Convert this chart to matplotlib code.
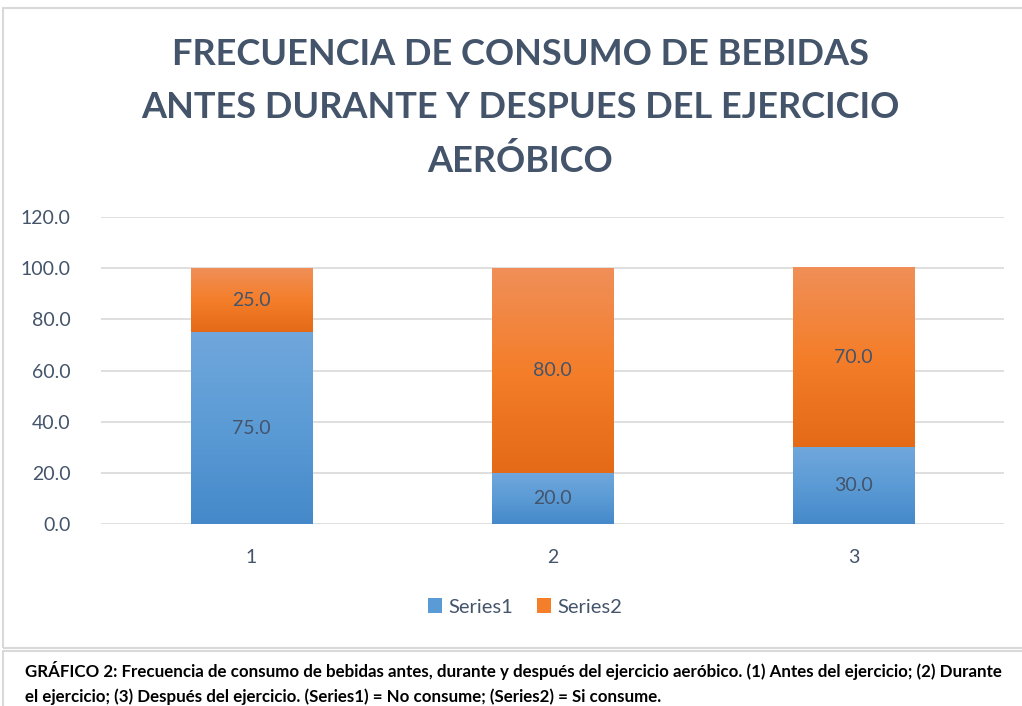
import numpy as np
import matplotlib
matplotlib.use('Agg')
import matplotlib.pyplot as plt
from matplotlib.colors import LinearSegmentedColormap
from matplotlib.patches import Rectangle, Patch

# Data
categories = ['1', '2', '3']
series1 = [75.0, 20.0, 30.0]   # No consume
series2 = [25.0, 80.0, 70.0]   # Si consume
yticks = [0, 20, 40, 60, 80, 100, 120]

title = 'FRECUENCIA DE CONSUMO DE BEBIDAS\nANTES DURANTE Y DESPUES DEL EJERCICIO\nAERÓBICO'
caption = ('GRÁFICO 2: Frecuencia de consumo de bebidas antes, durante y después del ejercicio aeróbico. '
           '(1) Antes del ejercicio; (2) Durante\nel ejercicio; (3) Después del ejercicio. '
           '(Series1) = No consume; (Series2) = Si consume.')

TXT = '#44546A'
GRID = '#D9D9D9'
blue_cm = LinearSegmentedColormap.from_list('b', ['#4589CA', '#5B9BD5', '#70A7DC'])
orng_cm = LinearSegmentedColormap.from_list('o', ['#E46A17', '#F47E2A', '#F08F58'])

plt.rcParams['font.family'] = ['Lato', 'DejaVu Sans']

fig = plt.figure(figsize=(10.22, 7.06), dpi=100)
W, H = 1022, 706

# chart and caption borders
fig.patches.append(Rectangle((3 / W, 1 - 648 / H), 1.0, 640 / H, transform=fig.transFigure,
                             fill=False, ec=GRID, lw=1.5))
fig.patches.append(Rectangle((3 / W, -0.01), 1.0, (1 - 651 / H) + 0.01, transform=fig.transFigure,
                             fill=False, ec=GRID, lw=1.5))

ax = fig.add_axes([101 / W, 1 - 524 / H, 903 / W, 307 / H])
x = np.arange(len(categories))
bw = 0.405

b1 = ax.bar(x, series1, width=bw, color='#5B9BD5', label='Series1', zorder=2)
b2 = ax.bar(x, series2, width=bw, bottom=series1, color='#F47E2A', label='Series2', zorder=2)

# vertical gradient fill, lighter at the top of each segment
grad = np.linspace(0, 1, 256).reshape(-1, 1)
for bars, cm in [(b1, blue_cm), (b2, orng_cm)]:
    for p in bars:
        x0, y0 = p.get_x(), p.get_y()
        ax.imshow(grad, cmap=cm, aspect='auto', origin='lower', zorder=3,
                  extent=[x0, x0 + p.get_width(), y0, y0 + p.get_height()])

for bars, vals in [(b1, series1), (b2, series2)]:
    for p, v in zip(bars, vals):
        ax.text(p.get_x() + p.get_width() / 2, p.get_y() + p.get_height() / 2, '%.1f' % v,
                ha='center', va='center', fontsize=14, color=TXT, zorder=4)

ax.set_xlim(-0.5, len(categories) - 0.5)
ax.set_ylim(0, 120)
ax.set_yticks(yticks)
ax.set_yticklabels(['%.1f' % t for t in yticks])
ax.set_xticks(x)
ax.set_xticklabels(categories)
ax.tick_params(length=0, labelsize=14, labelcolor=TXT)
ax.tick_params(axis='y', pad=22)
ax.tick_params(axis='x', pad=18)
ax.grid(axis='y', color=GRID, lw=1.2, zorder=0)
for s in ax.spines.values():
    s.set_visible(False)

handles = [Patch(facecolor='#5B9BD5', label='Series1'), Patch(facecolor='#F47E2A', label='Series2')]
fig.legend(handles=handles, loc='center', bbox_to_anchor=(525 / W, 1 - 607 / H), ncol=2,
           frameon=False, fontsize=14.5, labelcolor=TXT, handlelength=0.7, handleheight=0.7,
           handletextpad=0.3, columnspacing=1.2)

fig.text(520 / W, 1 - 108 / H, title, ha='center', va='center', fontsize=26, fontweight='bold',
         color=TXT, linespacing=1.72)

fig.text(25 / W, 1 - 683 / H, caption, ha='left', va='center', fontsize=12.2, fontweight='bold',
         color='black', linespacing=1.65)

fig.savefig('out.png', dpi=100)
